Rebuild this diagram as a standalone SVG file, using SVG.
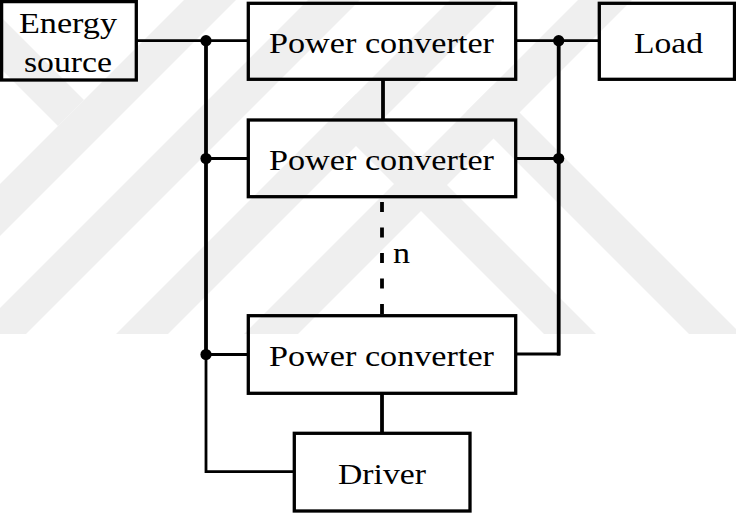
<svg xmlns="http://www.w3.org/2000/svg" width="736" height="514" viewBox="0 0 736 514">
  <style>
    .box { fill: none; stroke: #000; stroke-width: 3.3; }
    .wire { fill: none; stroke: #000; stroke-width: 2.8; stroke-linejoin: miter; }
    .bus { fill: none; stroke: #000; stroke-width: 3.8; }
    .dash { fill: none; stroke: #000; stroke-width: 3.8; stroke-dasharray: 10 15.5; }
    .dot { fill: #000; }
    .lbl { font-size: 29px; fill: #000; }
    .mark { fill: #efefef; }
  </style>
  <defs>
    <clipPath id="markClip">
      <rect x="0" y="0" width="736" height="334"/>
    </clipPath>
  </defs>

  <rect x="0" y="0" width="736" height="514" fill="#fff"/>

  <!-- faint background emblem -->
  <g id="emblem" clip-path="url(#markClip)">
    <polygon class="mark" points="184,0 236,0 -98,334 -150,334"/>
    <polygon class="mark" points="-20,-4 84,100 58,126 -20,48"/>
    <polygon class="mark" points="308,0 360,0 26,334 -26,334"/>
    <polygon class="mark" points="450,0 502,0 168,334 116,334"/>
    <polygon class="mark" points="578,0 632,0 298,334 244,334"/>
    <polygon class="mark" points="330,120 356,94 596,334 544,334"/>
    <polygon class="mark" points="466.5,111.5 492.5,85.5 741,334 689,334"/>
  </g>

  <g font-family="'Liberation Serif', 'DejaVu Serif', 'Times New Roman', serif">
  <!-- connectors -->
  <g id="connectors">
    <path class="wire" d="M136 40.7 H248"/>
    <path class="wire" d="M206 158.5 H248"/>
    <path class="wire" d="M206 354.5 H248"/>
    <path class="wire" d="M206 354.5 V471.7 H294"/>
    <path class="wire" d="M516 40.7 H599"/>
    <path class="wire" d="M516 158.5 H558.7"/>
    <path class="wire" d="M516 354 H558.7 V340"/>
    <path class="bus" d="M206 40.7 V354.5"/>
    <path class="bus" d="M558.7 40.7 V355.4"/>
    <path class="bus" d="M383 79 V121"/>
    <path class="dash" d="M382 202 V316"/>
    <path class="bus" d="M382 393 V434"/>
    <circle class="dot" cx="206" cy="40.7" r="5.6"/>
    <circle class="dot" cx="206" cy="158.5" r="5.6"/>
    <circle class="dot" cx="206" cy="354.5" r="5.6"/>
    <circle class="dot" cx="558.7" cy="40.7" r="5.6"/>
    <circle class="dot" cx="558.7" cy="158.5" r="5.6"/>
    <text class="lbl" x="393" y="263.3" textLength="17" lengthAdjust="spacingAndGlyphs">n</text>
  </g>

  <g id="energy-source">
    <rect class="box" x="1.6" y="1.6" width="134.7" height="78.4"/>
    <text class="lbl" x="19" y="33.3" textLength="98" lengthAdjust="spacingAndGlyphs">Energy</text>
    <text class="lbl" x="24" y="71.7" textLength="88" lengthAdjust="spacingAndGlyphs">source</text>
  </g>

  <g id="converter-1">
    <rect class="box" x="248.3" y="3.3" width="267.4" height="76"/>
    <text class="lbl" x="269" y="52.7" textLength="225" lengthAdjust="spacingAndGlyphs">Power converter</text>
  </g>

  <g id="load">
    <rect class="box" x="599.3" y="3.3" width="135.2" height="76"/>
    <text class="lbl" x="634" y="52.7" textLength="69" lengthAdjust="spacingAndGlyphs">Load</text>
  </g>

  <g id="converter-2">
    <rect class="box" x="248.3" y="120" width="267.4" height="76.7"/>
    <text class="lbl" x="269" y="169.8" textLength="225" lengthAdjust="spacingAndGlyphs">Power converter</text>
  </g>

  <g id="converter-n">
    <rect class="box" x="248.3" y="315.7" width="267.4" height="77.6"/>
    <text class="lbl" x="269" y="365.6" textLength="225" lengthAdjust="spacingAndGlyphs">Power converter</text>
  </g>

  <g id="driver">
    <rect class="box" x="294.3" y="433.3" width="175.7" height="77.7"/>
    <text class="lbl" x="338" y="484" textLength="88" lengthAdjust="spacingAndGlyphs">Driver</text>
  </g>
  </g>
</svg>
